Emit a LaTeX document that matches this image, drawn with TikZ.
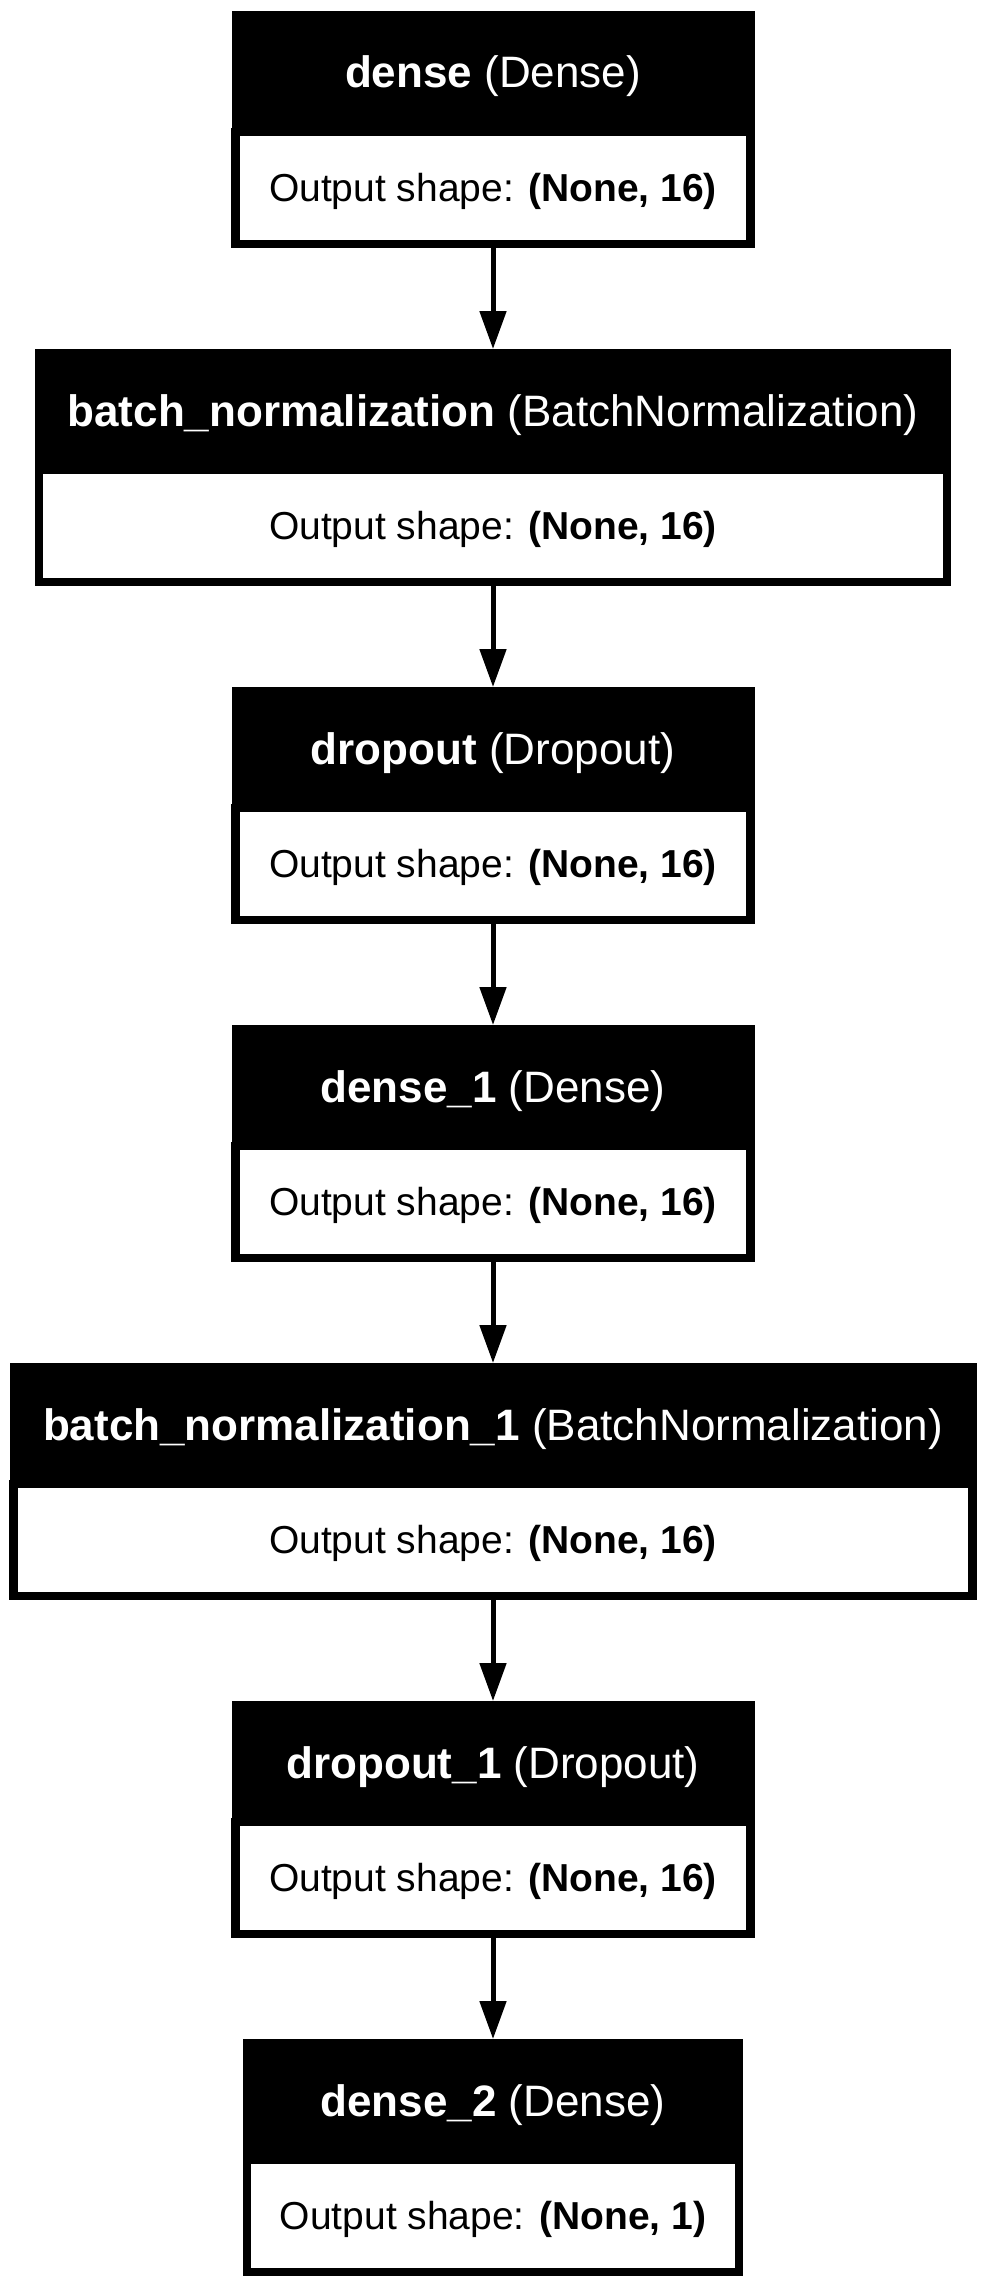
\documentclass[tikz,border=0pt]{standalone}
\usepackage{fontspec}
\setmainfont{Liberation Sans}
\usetikzlibrary{arrows.meta, positioning}

\begin{document}
\begin{tikzpicture}[x=1pt, y=1pt, node distance=105pt,
  head/.style={fill=black, text=white, inner sep=0pt, outer sep=0pt, minimum height=125pt, text height=40pt, text depth=11pt, font=\fontsize{44}{52}\selectfont},
  body/.style={fill=white, draw=black, line width=8.5pt, inner sep=0pt, outer sep=0pt, minimum height=112pt, text height=37pt, text depth=10pt, font=\fontsize{39}{47}\selectfont},
  flow/.style={line width=5pt, -{Triangle[length=38pt, width=26pt]}}]
\useasboundingbox (0,0) rectangle (986,-2285);
\node[head, minimum width=523pt, anchor=north] (dense) at (493,-11) {\textbf{dense} (Dense)};
\node[body, minimum width=515pt, below=-4pt of dense] (dense-out) {Output shape: \textbf{(None, 16)}};
\node[head, minimum width=916pt, below=of dense-out] (bn) {\textbf{batch\_normalization} (BatchNormalization)};
\node[body, minimum width=908pt, below=-4pt of bn] (bn-out) {Output shape: \textbf{(None, 16)}};
\node[head, minimum width=523pt, below=of bn-out] (drop) {\textbf{dropout} (Dropout)};
\node[body, minimum width=515pt, below=-4pt of drop] (drop-out) {Output shape: \textbf{(None, 16)}};
\node[head, minimum width=523pt, below=of drop-out] (dense1) {\textbf{dense\_1} (Dense)};
\node[body, minimum width=515pt, below=-4pt of dense1] (dense1-out) {Output shape: \textbf{(None, 16)}};
\node[head, minimum width=967pt, below=of dense1-out] (bn1) {\textbf{batch\_normalization\_1} (BatchNormalization)};
\node[body, minimum width=959pt, below=-4pt of bn1] (bn1-out) {Output shape: \textbf{(None, 16)}};
\node[head, minimum width=523pt, below=of bn1-out] (drop1) {\textbf{dropout\_1} (Dropout)};
\node[body, minimum width=515pt, below=-4pt of drop1] (drop1-out) {Output shape: \textbf{(None, 16)}};
\node[head, minimum width=500pt, below=of drop1-out] (dense2) {\textbf{dense\_2} (Dense)};
\node[body, minimum width=492pt, below=-4pt of dense2] (dense2-out) {Output shape: \textbf{(None, 1)}};
\draw[flow] (dense-out) -- (bn);
\draw[flow] (bn-out) -- (drop);
\draw[flow] (drop-out) -- (dense1);
\draw[flow] (dense1-out) -- (bn1);
\draw[flow] (bn1-out) -- (drop1);
\draw[flow] (drop1-out) -- (dense2);
\end{tikzpicture}
\end{document}
